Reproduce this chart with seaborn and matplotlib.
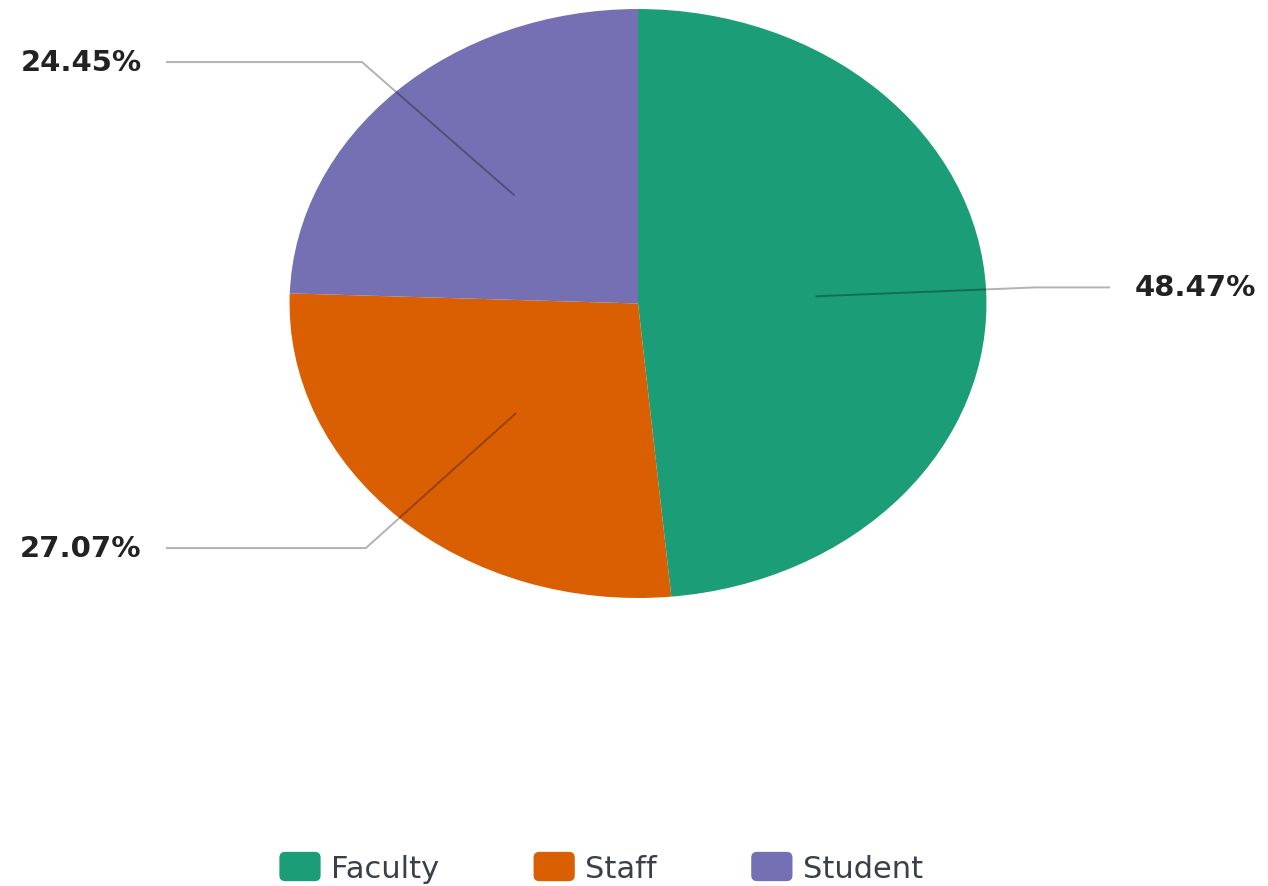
import numpy as np
import seaborn as sns
import matplotlib.pyplot as plt
from matplotlib.patches import Patch, FancyBboxPatch
from matplotlib.legend_handler import HandlerPatch

# data
groups = ['Faculty', 'Staff', 'Student']
shares = [48.47, 27.07, 24.45]
labels = ['48.47%', '27.07%', '24.45%']

sns.set_theme(style='white')
colors = sns.color_palette('Dark2', 3)


class RoundSquare(HandlerPatch):
    def create_artists(self, legend, orig_handle, xdescent, ydescent,
                       width, height, fontsize, trans):
        p = FancyBboxPatch((-xdescent, -ydescent), width, height,
                           boxstyle='round,pad=0,rounding_size=%f' % (height * 0.2),
                           facecolor=orig_handle.get_facecolor(), edgecolor='none',
                           transform=trans)
        return [p]


fig = plt.figure(figsize=(12.68, 8.87), dpi=100)
ax = fig.add_axes([0, 0, 1, 1])
wedges, _ = ax.pie(shares, colors=colors, startangle=90, counterclock=False,
                   radius=1.0, wedgeprops=dict(linewidth=0))
ax.set_aspect('auto')
ax.set_xlim(-1.831, 1.808)
ax.set_ylim(-1.978, 1.034)
ax.axis('off')

# leader lines with elbows
for w, lab in zip(wedges, labels):
    ang = np.deg2rad((w.theta1 + w.theta2) / 2)
    x0, y0 = 0.51 * np.cos(ang), 0.51 * np.sin(ang)
    x1, y1 = 1.14 * np.cos(ang), 1.14 * np.sin(ang)
    side = 1 if x1 > 0 else -1
    x2 = 1.355 * side
    ax.plot([x0, x1, x2], [y0, y1, y1], color='black', alpha=0.3, lw=1.4,
            solid_capstyle='butt')
    ax.text(x2 + 0.07 * side, y1, lab, ha='left' if side > 0 else 'right',
            va='center', fontsize=21, fontweight='bold', color='#222222')

handles = [Patch(facecolor=c, label=g) for c, g in zip(colors, groups)]
fig.legend(handles=handles, loc='center', bbox_to_anchor=(0.474, 0.021),
           ncol=3, frameon=False, fontsize=22, handlelength=1.35, handleheight=1.1,
           handletextpad=0.33, columnspacing=3.1, labelcolor='#3a3f4a',
           handler_map={Patch: RoundSquare()})

fig.savefig('out.png', dpi=100)
